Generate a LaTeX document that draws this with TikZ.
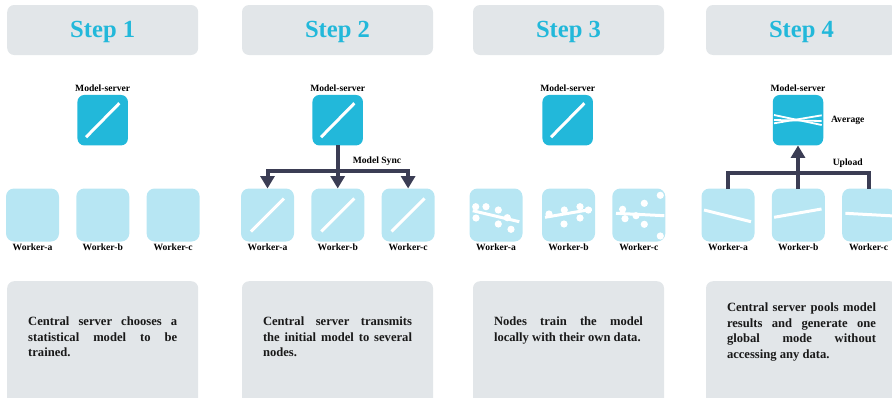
\documentclass[tikz,border=0pt]{standalone}
\usepackage{fontspec}
\setmainfont{Liberation Serif}
\usetikzlibrary{arrows.meta, positioning}
\definecolor{headgray}{HTML}{E2E6E9}
\definecolor{servercyan}{HTML}{22B8DA}
\definecolor{workercyan}{HTML}{B7E6F3}
\definecolor{busdark}{HTML}{3B3D54}
\tikzset{
  headbox/.style={rectangle,rounded corners=7pt,fill=headgray,minimum width=191pt,minimum height=50pt,inner sep=0pt,
    text height=15.5pt,text depth=0pt,text=servercyan,font=\fontsize{24.6}{28}\selectfont\bfseries},
  bodybox/.style={rectangle,rounded corners=7pt,fill=headgray,minimum width=191pt,minimum height=125pt,inner sep=0pt},
  bodytext/.style={inner sep=0pt,text width=149pt,text=black!90,align=justify,
    font=\fontsize{12.6}{15.6}\selectfont\bfseries,execute at begin node={\tolerance=9999\relax}},
  serverbox/.style={rectangle,rounded corners=7pt,fill=servercyan,minimum size=50.5pt,inner sep=0pt,outer sep=0pt},
  workerbox/.style={rectangle,rounded corners=8pt,fill=workercyan,minimum size=53pt,inner sep=0pt,outer sep=0pt},
  tag/.style={inner sep=0pt,text=black,font=\fontsize{9.6}{11}\selectfont\bfseries},
  serverlabel/.style={tag,label distance=3.5pt},
  workerlabel/.style={tag,label distance=2.6pt},
  modelline/.style={draw=white,line width=3pt},
  thinline/.style={draw=white,line width=1.8pt},
  bus/.style={draw=busdark,line width=4pt},
  busarrow/.style={bus,-{Triangle[length=12.5pt,width=14pt]}}
}
\begin{document}
\begin{tikzpicture}[x=1pt, y=-1pt]
    \clip (0,0) rectangle (892,397);

    % headers
    \node[headbox] (h1) at (102.7,30) {Step 1};
    \node[headbox] (h2) at (337.5,30) {Step 2};
    \node[headbox] (h3) at (568.5,30) {Step 3\hspace{4pt}};
    \node[headbox] (h4) at (801.5,30) {Step 4};

    % servers
    \node[serverbox, label={[serverlabel,name=ls1]90:Model-server}] (s1) at (102.7,120.2) {};
    \node[serverbox, label={[serverlabel,name=ls2]90:Model-server}] (s2) at (337.7,120.2) {};
    \node[serverbox, label={[serverlabel,name=ls3]90:Model-server}] (s3) at (567.7,120.2) {};
    \node[serverbox, label={[serverlabel,name=ls4]90:Model-server}] (s4) at (798,120.2) {};

    % workers
    \node[workerbox, label={[workerlabel,name=l1a]270:Worker-a}] (w1a) at (32.5,215) {};
    \node[workerbox, right=17.3pt of w1a, label={[workerlabel,name=l1b]270:Worker-b}] (w1b) {};
    \node[workerbox, right=17.3pt of w1b, label={[workerlabel,name=l1c]270:Worker-c}] (w1c) {};

    \node[workerbox, label={[workerlabel,name=l2a]270:Worker-a}] (w2a) at (267.5,215) {};
    \node[workerbox, right=17.3pt of w2a, label={[workerlabel,name=l2b]270:Worker-b}] (w2b) {};
    \node[workerbox, right=17.3pt of w2b, label={[workerlabel,name=l2c]270:Worker-c}] (w2c) {};

    \node[workerbox, label={[workerlabel,name=l3a]270:Worker-a}] (w3a) at (496,215) {};
    \node[workerbox, right=19.5pt of w3a, label={[workerlabel,name=l3b]270:Worker-b}] (w3b) {};
    \node[workerbox, right=17.3pt of w3b, label={[workerlabel,name=l3c]270:Worker-c}] (w3c) {};

    \node[workerbox, label={[workerlabel,name=l4a]270:Worker-a}] (w4a) at (728,215) {};
    \node[workerbox, right=17.3pt of w4a, label={[workerlabel,name=l4b]270:Worker-b}] (w4b) {};
    \node[workerbox, right=17.3pt of w4b, label={[workerlabel,name=l4c]270:Worker-c}] (w4c) {};

    % model lines
    \foreach \n in {s1,s2,s3}
      \draw[modelline, shift={(\n.center)}] (-16.7,17) -- (16.7,-17);
    \foreach \n in {w2a,w2b,w2c}
      \draw[modelline, shift={(\n.center)}] (-16.5,16.5) -- (16.5,-16.5);

    % local data
    \draw[modelline, shift={(w3a.center)}] (-23.3,-4.3) -- (23.3,6.7);
    \foreach \p in {(-20.3,-8.3),(-10,-8.3),(2.3,-5),(-20,3),(2.3,9),(15,14.3),(11.3,2.7)}
      \fill[white, shift={(w3a.center)}] \p circle (3.6pt);
    \draw[modelline, shift={(w3b.center)}] (-23.5,2.3) -- (23.2,-5.7);
    \foreach \p in {(-19.5,-1),(-4.2,-5),(11.5,-8.3),(19.8,-5),(-4.5,9),(11.5,3)}
      \fill[white, shift={(w3b.center)}] \p circle (3.6pt);
    \draw[modelline, shift={(w3c.center)}] (-22.8,-1.7) -- (25.5,0.7);
    \foreach \p in {(-16.2,-5.7),(-13.8,3.7),(-2.8,0.7),(5.5,-11.7),(5.5,9.3),(21.5,-19.7),(21.5,21)}
      \fill[white, shift={(w3c.center)}] \p circle (3.6pt);

    % averaged result
    \draw[thinline, shift={(s4.center)}] (-24,-5.2) -- (23.7,4.8);
    \draw[thinline, shift={(s4.center)}] (-24,3.1) -- (23.7,-4.9);
    \draw[thinline, shift={(s4.center)}] (-24,-0.2) -- (23.7,0.8);
    \draw[modelline, shift={(w4a.center)}] (-24,-5) -- (23,6.7);
    \draw[modelline, shift={(w4b.center)}] (-24.2,2.3) -- (23.2,-6);
    \draw[modelline, shift={(w4c.center)}] (-23.2,-1.7) -- (26,1);

    % sync arrows
    \coordinate (j2) at (s2 |- 0,170.5);
    \coordinate (j4) at (s4 |- 0,172.5);
    \draw[busarrow] (s2) -- (s2 |- w2b.north);
    \draw[busarrow] (j2) -| (w2a.north);
    \draw[busarrow] (j2) -| (w2c.north);
    \node[tag] (sync) at (377,161) {Model Sync};

    \draw[busarrow] (w4b.north -| s4) -- (s4.south);
    \draw[bus] (w4a.north) |- (j4);
    \draw[bus] (w4c.north) |- (j4);
    \node[tag] (up) at (847.7,163) {Upload};
    \node[tag] (avg) at (847.7,120) {Average};

    % descriptions
    \node[bodybox, anchor=north] (b1) at (102.7,281) {};
    \node[bodybox, anchor=north] (b2) at (337.5,281) {};
    \node[bodybox, anchor=north] (b3) at (568.5,281) {};
    \node[bodybox, anchor=north] (b4) at (801.5,281) {};

    \node[bodytext, below=35.5pt of b1.north] (t1) {Central server chooses a\linebreak statistical model to be\linebreak trained.};
    \node[bodytext, below=35.5pt of b2.north] (t2) {Central server transmits\linebreak the initial model to several\linebreak nodes.};
    \node[bodytext, below=35.5pt of b3.north] (t3) {Nodes train the model\linebreak locally with their own data.};
    \node[bodytext, below=21.5pt of b4.north] (t4) {Central server pools model\linebreak results and generate one\linebreak global mode without\linebreak accessing any data.};
\end{tikzpicture}
\end{document}
